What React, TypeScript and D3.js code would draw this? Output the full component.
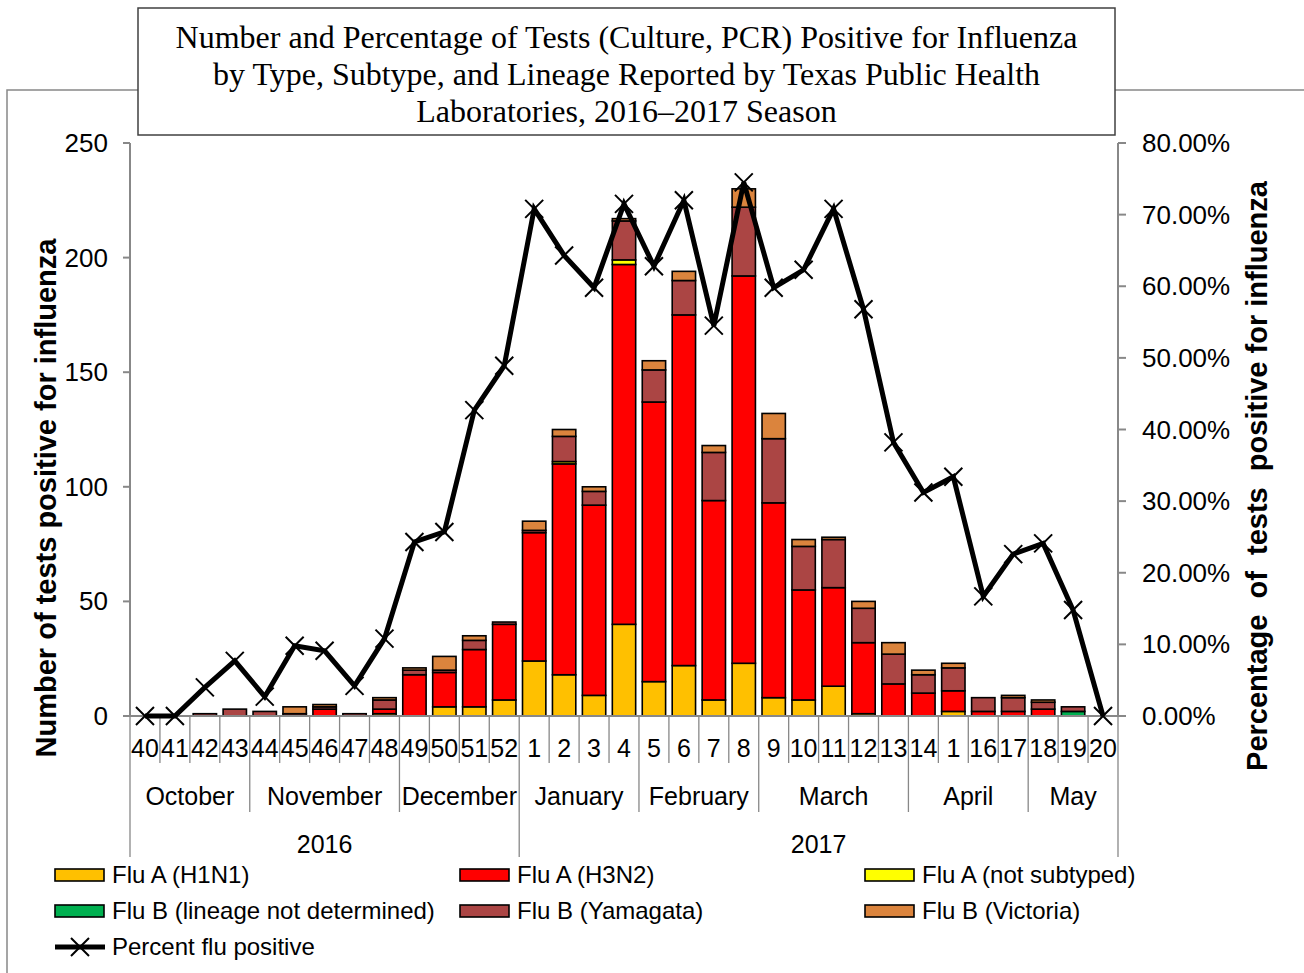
import React from "react";
import * as d3 from "d3";

const weeks = ["40","41","42","43","44","45","46","47","48","49","50","51","52","1","2","3","4","5","6","7","8","9","10","11","12","13","14","1","16","17","18","19","20"];
const h1n1 = [0,0,0,0,0,0,0,0,1,0,4,4,7,24,18,9,40,15,22,7,23,8,7,13,1,0,0,2,0,0,0,0,0];
const h3n2 = [0,0,0,0,0,0,3,0,2,18,15,25,33,56,92,83,157,122,153,87,169,85,48,43,31,14,10,9,2,2,3,0,0];
const notSubtyped = [0,0,0,0,0,0,0,0,0,0,0,0,0,0,1,0,2,0,0,0,0,0,0,0,0,0,0,0,0,0,0,0,0];
const bLineageND = [0,0,0,0,0,0,0,0,0,0,0,0,0,0,0,0,0,0,0,0,0,0,0,0,0,0,0,0,0,0,0,2,0];
const yamagata = [0,0,1,3,2,1,1,1,4,2,1,4,1,1,11,6,17,14,15,21,30,28,19,21,15,13,8,10,6,6,3,2,0];
const victoria = [0,0,0,0,0,3,1,0,1,1,6,2,0,4,3,2,1,4,4,3,8,11,3,1,3,5,2,2,0,1,1,0,0];
const percentPositive = [0,0,4.0,7.7,2.7,9.8,9.1,4.2,10.8,24.3,25.7,42.7,48.9,70.8,64.3,59.8,71.5,62.8,72.0,54.5,74.5,59.8,62.3,70.8,56.8,38.2,31.2,33.4,16.7,22.6,24.1,14.8,0];

const months = [
  { name: "October", n: 4 },
  { name: "November", n: 5 },
  { name: "December", n: 4 },
  { name: "January", n: 4 },
  { name: "February", n: 4 },
  { name: "March", n: 5 },
  { name: "April", n: 4 },
  { name: "May", n: 3 },
];
const years = [
  { name: "2016", n: 13 },
  { name: "2017", n: 20 },
];
const leftTicks = [0, 50, 100, 150, 200, 250];
const rightTicks = [0, 10, 20, 30, 40, 50, 60, 70, 80];
const titleLines = [
  "Number and Percentage of Tests (Culture, PCR) Positive for Influenza",
  "by Type, Subtype, and Lineage Reported by Texas Public Health",
  "Laboratories, 2016\u20132017 Season",
];

const seriesNames = [
  "Flu A (H1N1)",
  "Flu A (H3N2)",
  "Flu A (not subtyped)",
  "Flu B (lineage not determined)",
  "Flu B (Yamagata)",
  "Flu B (Victoria)",
];
const seriesValues = [h1n1, h3n2, notSubtyped, bLineageND, yamagata, victoria];
const colors = ["#FFC000", "#FF0000", "#FFFF00", "#00B050", "#AB4544", "#DB843D"];

const W = 1304, H = 973;
const L = 130, R = 1118, T = 143, B = 716;
const AX = "#888888";

export default function App() {
  const step = (R - L) / weeks.length;
  const cx = (i: number) => L + step * (i + 0.5);
  const y = d3.scaleLinear().domain([0, 250]).range([B, T]);
  const y2 = d3.scaleLinear().domain([0, 80]).range([B, T]);

  const table = weeks.map((w, i) => {
    const o: any = { i };
    seriesNames.forEach((s, k) => (o[s] = seriesValues[k][i]));
    return o;
  });
  const stacked = d3.stack<any>().keys(seriesNames)(table);

  const line = d3
    .line<number>()
    .x((_, i) => cx(i))
    .y((d) => y2(d));

  const bw = step * 0.78;

  let acc = 0;
  const monthBounds = months.map((m) => {
    const s = acc;
    acc += m.n;
    return { ...m, s, e: acc };
  });
  acc = 0;
  const yearBounds = years.map((m) => {
    const s = acc;
    acc += m.n;
    return { ...m, s, e: acc };
  });

  const legendCols = [55, 460, 865];
  const legendRows = [875, 911, 947];

  return (
    <svg width={W} height={H} style={{ position: "absolute", left: 0, top: 0, background: "#fff" }} fontFamily="Liberation Sans, Arial, sans-serif">
      <rect x={0} y={0} width={W} height={H} fill="#fff" />
      <rect x={7} y={90} width={1320} height={920} fill="none" stroke={AX} strokeWidth={1.5} />

      {/* bars */}
      {stacked.map((layer, k) =>
        layer.map((d, i) => {
          const h = y(d[0]) - y(d[1]);
          if (h <= 0) return null;
          return (
            <rect
              key={k + "-" + i}
              x={cx(i) - bw / 2}
              y={y(d[1])}
              width={bw}
              height={h}
              fill={colors[k]}
              stroke="#000"
              strokeWidth={1.6}
            />
          );
        })
      )}

      {/* left axis */}
      <line x1={L} x2={L} y1={T} y2={B} stroke={AX} strokeWidth={2} />
      {leftTicks.map((t) => (
        <g key={"l" + t}>
          <line x1={L - 7} x2={L} y1={y(t)} y2={y(t)} stroke={AX} strokeWidth={2} />
          <text x={108} y={y(t) + 9} textAnchor="end" fontSize={26} fill="#000">
            {t}
          </text>
        </g>
      ))}
      {/* right axis */}
      <line x1={R} x2={R} y1={T} y2={B} stroke={AX} strokeWidth={2} />
      {rightTicks.map((t) => (
        <g key={"r" + t}>
          <line x1={R} x2={R + 8} y1={y2(t)} y2={y2(t)} stroke={AX} strokeWidth={2} />
          <text x={1142} y={y2(t) + 9} textAnchor="start" fontSize={26} fill="#000">
            {t.toFixed(2) + "%"}
          </text>
        </g>
      ))}

      {/* category axis */}
      <line x1={L} x2={R} y1={B} y2={B} stroke={AX} strokeWidth={2} />
      {d3.range(weeks.length + 1).map((i) => (
        <line key={"wt" + i} x1={L + i * step} x2={L + i * step} y1={B} y2={763} stroke={AX} strokeWidth={1.3} />
      ))}
      {weeks.map((w, i) => (
        <text key={"w" + i} x={cx(i)} y={757} textAnchor="middle" fontSize={25} fill="#000">
          {w}
        </text>
      ))}
      {monthBounds.map((m, j) => (
        <g key={"m" + j}>
          <line x1={L + m.e * step} x2={L + m.e * step} y1={763} y2={812} stroke={AX} strokeWidth={1.3} />
          {j === 0 && <line x1={L} x2={L} y1={763} y2={812} stroke={AX} strokeWidth={1.3} />}
          <text x={L + ((m.s + m.e) / 2) * step} y={805} textAnchor="middle" fontSize={25} fill="#000">
            {m.name}
          </text>
        </g>
      ))}
      {yearBounds.map((m, j) => (
        <g key={"y" + j}>
          <line x1={L + m.e * step} x2={L + m.e * step} y1={812} y2={857} stroke={AX} strokeWidth={1.3} />
          {j === 0 && <line x1={L} x2={L} y1={812} y2={857} stroke={AX} strokeWidth={1.3} />}
          <text x={L + ((m.s + m.e) / 2) * step} y={853} textAnchor="middle" fontSize={25} fill="#000">
            {m.name}
          </text>
        </g>
      ))}

      {/* percent line */}
      <path d={line(percentPositive) || ""} fill="none" stroke="#000" strokeWidth={5} strokeLinejoin="miter" />
      {percentPositive.map((p, i) => (
        <path
          key={"mk" + i}
          d={`M${cx(i) - 9},${y2(p) - 9}L${cx(i) + 9},${y2(p) + 9}M${cx(i) - 9},${y2(p) + 9}L${cx(i) + 9},${y2(p) - 9}`}
          stroke="#000"
          strokeWidth={2}
        />
      ))}

      {/* axis titles */}
      <text
        transform={`translate(56,498) rotate(-90)`}
        textAnchor="middle"
        fontSize={29}
        fontWeight="bold"
        fill="#000"
      >
        Number of tests positive for influenza
      </text>
      <text
        transform={`translate(1267,476) rotate(-90)`}
        textAnchor="middle"
        fontSize={29}
        fontWeight="bold"
        fill="#000"
        style={{ whiteSpace: "pre" }}
      >
        {"Percentage  of  tests  positive for influenza"}
      </text>

      {/* title */}
      <rect x={138} y={8} width={977} height={127} fill="#fff" stroke="#404040" strokeWidth={1.5} />
      {titleLines.map((t, i) => (
        <text key={"t" + i} x={626.5} y={48 + i * 37} textAnchor="middle" fontSize={32} fontFamily="Liberation Serif, Times New Roman, serif" fill="#000">
          {t}
        </text>
      ))}

      {/* legend */}
      {seriesNames.map((s, k) => {
        const col = k % 3;
        const row = Math.floor(k / 3);
        const lx = legendCols[col];
        const ly = legendRows[row];
        return (
          <g key={"lg" + k}>
            <rect x={lx} y={ly - 6} width={49} height={12} fill={colors[k]} stroke="#000" strokeWidth={1.6} />
            <text x={lx + 57} y={ly + 8} fontSize={24} fill="#000">
              {s}
            </text>
          </g>
        );
      })}
      <g>
        <line x1={legendCols[0]} x2={legendCols[0] + 50} y1={legendRows[2]} y2={legendRows[2]} stroke="#000" strokeWidth={5} />
        <path
          d={`M${legendCols[0] + 16},${legendRows[2] - 9}L${legendCols[0] + 34},${legendRows[2] + 9}M${legendCols[0] + 16},${legendRows[2] + 9}L${legendCols[0] + 34},${legendRows[2] - 9}`}
          stroke="#000"
          strokeWidth={2}
        />
        <text x={legendCols[0] + 57} y={legendRows[2] + 8} fontSize={24} fill="#000">
          Percent flu positive
        </text>
      </g>
    </svg>
  );
}
